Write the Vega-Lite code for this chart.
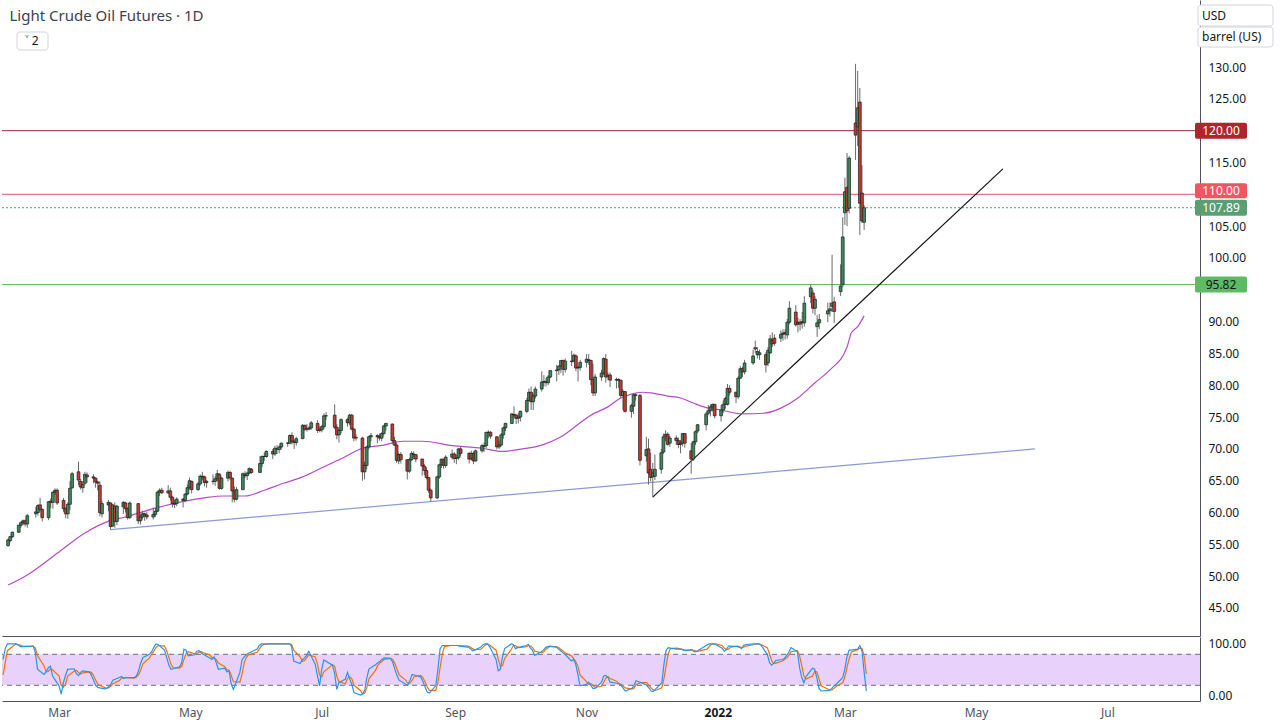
{
"$schema":"https://vega.github.io/schema/vega-lite/v6.json",
"padding":{"left":0,"top":0,"right":0,"bottom":4},
"background":"#ffffff",
"spacing":1,
"config":{"view":{"stroke":null},"font":"Noto Sans","axis":{"grid":false,"ticks":false,"domainColor":"#50535e","labelColor":"#131722","labelFontSize":12,"labelFont":"Noto Sans","labelOverlap":false,"labelSeparation":0,"tickCount":100}},
"datasets":{
"levels":[{"v":120,"col":"#9c2a30"},{"v":110,"col":"#e2535f"},{"v":95.82,"col":"#5cb85c"}],
"last":[{"v":107.89}],
"tags":[{"v":120,"t":"120.00","bg":"#b2242c","fg":"#ffffff"},{"v":110,"t":"110.00","bg":"#f25562","fg":"#ffffff"},{"v":107.89,"t":"107.89","bg":"#5a9e74","fg":"#ffffff"},{"v":95.82,"t":"95.82","bg":"#5dbb63","fg":"#131722"}],
"trend":[{"d1":"2021-03-23","v1":57.32,"d2":"2022-05-30","v2":70.0,"col":"#8a9ad8"},{"d1":"2021-12-02","v1":62.43,"d2":"2022-05-15","v2":114.0,"col":"#111111"}],
"band":[{"lo":20,"hi":80}],
"stlev":[{"v":80},{"v":20}],
"ma":[
{"d":"2021-02-03","v":48.6},{"d":"2021-02-12","v":50.2},{"d":"2021-02-26","v":53.6},{"d":"2021-03-11","v":56.8},{"d":"2021-03-21","v":58.5},{"d":"2021-03-30","v":59.3},{"d":"2021-04-13","v":60.7},{"d":"2021-04-27","v":61.8},{"d":"2021-05-06","v":62.3},{"d":"2021-05-15","v":62.6},{"d":"2021-05-25","v":62.6},{"d":"2021-06-03","v":63.5},{"d":"2021-06-12","v":64.6},{"d":"2021-06-21","v":65.6},{"d":"2021-07-01","v":67.2},{"d":"2021-07-10","v":68.6},{"d":"2021-07-19","v":70.1},{"d":"2021-07-29","v":70.6},{"d":"2021-08-07","v":71.2},{"d":"2021-08-16","v":71.2},{"d":"2021-08-30","v":70.5},{"d":"2021-09-13","v":70.1},{"d":"2021-09-22","v":69.6},{"d":"2021-10-02","v":70.0},{"d":"2021-10-11","v":70.6},{"d":"2021-10-20","v":71.9},{"d":"2021-10-29","v":74.1},{"d":"2021-11-03","v":75.3},{"d":"2021-11-11","v":76.6},{"d":"2021-11-17","v":78.0},{"d":"2021-11-22","v":78.6},{"d":"2021-11-27","v":78.9},{"d":"2021-12-01","v":78.8},{"d":"2021-12-09","v":78.3},{"d":"2021-12-15","v":78.0},{"d":"2021-12-21","v":77.2},{"d":"2021-12-28","v":76.4},{"d":"2022-01-03","v":76.1},{"d":"2022-01-13","v":75.5},{"d":"2022-01-23","v":75.6},{"d":"2022-01-31","v":76.4},{"d":"2022-02-08","v":78.0},{"d":"2022-02-16","v":80.4},{"d":"2022-02-23","v":82.4},{"d":"2022-03-03","v":86.0},{"d":"2022-03-05","v":88.2},{"d":"2022-03-08","v":89.2},{"d":"2022-03-11","v":90.9}],
"bars":[
{"d":"2021-02-03","o":54.8,"h":55.9,"l":54.6,"c":55.7,"k":70,"s":40},
{"d":"2021-02-04","o":55.6,"h":56.3,"l":55.3,"c":56.2,"k":91,"s":64},
{"d":"2021-02-05","o":56.2,"h":57.0,"l":56.0,"c":56.9,"k":100,"s":87},
{"d":"2021-02-08","o":56.9,"h":58.0,"l":56.8,"c":58.0,"k":100,"s":97},
{"d":"2021-02-09","o":58.0,"h":58.6,"l":57.6,"c":58.4,"k":100,"s":100},
{"d":"2021-02-10","o":58.4,"h":58.9,"l":58.0,"c":58.7,"k":98,"s":99},
{"d":"2021-02-11","o":58.7,"h":58.9,"l":57.8,"c":58.2,"k":95,"s":98},
{"d":"2021-02-12","o":58.2,"h":59.8,"l":57.6,"c":59.5,"k":95,"s":96},
{"d":"2021-02-16","o":59.8,"h":60.9,"l":59.2,"c":60.1,"k":96,"s":95},
{"d":"2021-02-17","o":60.0,"h":61.3,"l":59.5,"c":61.1,"k":96,"s":96},
{"d":"2021-02-18","o":61.2,"h":62.3,"l":60.2,"c":60.5,"k":83,"s":92},
{"d":"2021-02-19","o":60.5,"h":60.6,"l":58.6,"c":59.2,"k":51,"s":77},
{"d":"2021-02-22","o":59.2,"h":61.8,"l":58.8,"c":61.7,"k":41,"s":58},
{"d":"2021-02-23","o":61.8,"h":62.2,"l":60.7,"c":61.6,"k":46,"s":46},
{"d":"2021-02-24","o":61.6,"h":63.3,"l":60.6,"c":63.2,"k":54,"s":47},
{"d":"2021-02-25","o":63.2,"h":63.8,"l":62.8,"c":63.5,"k":57,"s":52},
{"d":"2021-02-26","o":63.5,"h":63.8,"l":61.2,"c":61.5,"k":38,"s":50},
{"d":"2021-03-01","o":61.9,"h":62.3,"l":60.1,"c":60.6,"k":19,"s":38},
{"d":"2021-03-02","o":60.6,"h":60.8,"l":59.1,"c":59.8,"k":3,"s":20},
{"d":"2021-03-03","o":59.8,"h":61.6,"l":59.0,"c":61.3,"k":25,"s":16},
{"d":"2021-03-04","o":61.3,"h":64.9,"l":60.4,"c":63.8,"k":39,"s":22},
{"d":"2021-03-05","o":63.9,"h":66.4,"l":63.7,"c":66.1,"k":51,"s":38},
{"d":"2021-03-08","o":66.4,"h":68.0,"l":64.3,"c":65.1,"k":52,"s":47},
{"d":"2021-03-09","o":64.9,"h":65.3,"l":63.6,"c":64.0,"k":43,"s":49},
{"d":"2021-03-10","o":63.9,"h":64.9,"l":63.1,"c":64.4,"k":39,"s":45},
{"d":"2021-03-11","o":64.6,"h":66.4,"l":64.3,"c":66.0,"k":45,"s":42},
{"d":"2021-03-12","o":65.9,"h":66.3,"l":64.7,"c":65.6,"k":48,"s":44},
{"d":"2021-03-15","o":65.6,"h":66.0,"l":64.6,"c":65.4,"k":46,"s":46},
{"d":"2021-03-16","o":65.4,"h":65.5,"l":63.9,"c":64.8,"k":40,"s":45},
{"d":"2021-03-17","o":64.8,"h":65.0,"l":63.5,"c":64.6,"k":30,"s":39},
{"d":"2021-03-18","o":64.3,"h":64.9,"l":59.4,"c":60.0,"k":20,"s":30},
{"d":"2021-03-19","o":59.8,"h":61.8,"l":59.2,"c":61.4,"k":16,"s":22},
{"d":"2021-03-22","o":61.2,"h":62.0,"l":60.2,"c":61.6,"k":13,"s":16},
{"d":"2021-03-23","o":61.5,"h":61.6,"l":57.3,"c":57.8,"k":14,"s":14},
{"d":"2021-03-24","o":57.9,"h":61.3,"l":57.7,"c":61.2,"k":17,"s":15},
{"d":"2021-03-25","o":61.0,"h":61.6,"l":57.6,"c":58.6,"k":22,"s":18},
{"d":"2021-03-26","o":58.6,"h":61.2,"l":58.0,"c":61.0,"k":30,"s":23},
{"d":"2021-03-29","o":60.9,"h":61.8,"l":59.8,"c":61.6,"k":35,"s":29},
{"d":"2021-03-30","o":61.5,"h":61.7,"l":60.0,"c":60.6,"k":37,"s":34},
{"d":"2021-03-31","o":60.6,"h":60.8,"l":58.9,"c":59.2,"k":33,"s":35},
{"d":"2021-04-01","o":59.2,"h":61.7,"l":59.0,"c":61.5,"k":35,"s":35},
{"d":"2021-04-05","o":61.4,"h":61.5,"l":58.2,"c":58.7,"k":35,"s":34},
{"d":"2021-04-06","o":58.7,"h":59.8,"l":58.1,"c":59.3,"k":38,"s":36},
{"d":"2021-04-07","o":59.3,"h":60.3,"l":58.9,"c":59.8,"k":49,"s":41},
{"d":"2021-04-08","o":59.8,"h":60.0,"l":58.7,"c":59.6,"k":64,"s":50},
{"d":"2021-04-09","o":59.6,"h":60.1,"l":58.9,"c":59.3,"k":74,"s":62},
{"d":"2021-04-12","o":59.3,"h":60.8,"l":58.9,"c":59.7,"k":80,"s":73},
{"d":"2021-04-13","o":59.7,"h":60.6,"l":59.3,"c":60.2,"k":85,"s":80},
{"d":"2021-04-14","o":60.2,"h":63.4,"l":60.1,"c":63.2,"k":93,"s":86},
{"d":"2021-04-15","o":63.2,"h":63.8,"l":62.6,"c":63.5,"k":100,"s":93},
{"d":"2021-04-16","o":63.5,"h":63.9,"l":62.9,"c":63.1,"k":99,"s":97},
{"d":"2021-04-19","o":63.1,"h":64.3,"l":62.9,"c":63.4,"k":88,"s":96},
{"d":"2021-04-20","o":63.4,"h":63.9,"l":61.9,"c":62.4,"k":74,"s":87},
{"d":"2021-04-21","o":62.4,"h":62.6,"l":60.8,"c":61.4,"k":59,"s":74},
{"d":"2021-04-22","o":61.3,"h":62.0,"l":60.7,"c":61.4,"k":51,"s":61},
{"d":"2021-04-23","o":61.4,"h":62.4,"l":61.0,"c":62.1,"k":52,"s":54},
{"d":"2021-04-26","o":62.1,"h":62.3,"l":60.8,"c":61.9,"k":56,"s":53},
{"d":"2021-04-27","o":61.9,"h":63.1,"l":61.6,"c":62.9,"k":64,"s":57},
{"d":"2021-04-28","o":62.9,"h":64.4,"l":62.7,"c":63.9,"k":90,"s":70},
{"d":"2021-04-29","o":63.9,"h":65.5,"l":63.6,"c":65.0,"k":88,"s":81},
{"d":"2021-04-30","o":64.9,"h":65.0,"l":63.0,"c":63.6,"k":77,"s":85},
{"d":"2021-05-03","o":63.6,"h":64.8,"l":63.4,"c":64.5,"k":79,"s":81},
{"d":"2021-05-04","o":64.5,"h":66.0,"l":64.2,"c":65.7,"k":86,"s":81},
{"d":"2021-05-05","o":65.7,"h":66.4,"l":65.1,"c":65.6,"k":87,"s":84},
{"d":"2021-05-06","o":65.6,"h":65.8,"l":64.1,"c":64.7,"k":83,"s":85},
{"d":"2021-05-07","o":64.7,"h":65.1,"l":63.9,"c":64.9,"k":80,"s":83},
{"d":"2021-05-10","o":64.9,"h":66.0,"l":64.4,"c":64.9,"k":73,"s":79},
{"d":"2021-05-11","o":64.9,"h":65.7,"l":64.2,"c":65.3,"k":70,"s":74},
{"d":"2021-05-12","o":65.3,"h":66.7,"l":64.9,"c":66.1,"k":75,"s":73},
{"d":"2021-05-13","o":66.0,"h":66.2,"l":63.6,"c":63.8,"k":64,"s":70},
{"d":"2021-05-14","o":63.8,"h":65.6,"l":63.6,"c":65.4,"k":51,"s":63},
{"d":"2021-05-17","o":65.4,"h":66.6,"l":64.9,"c":66.3,"k":53,"s":56},
{"d":"2021-05-18","o":66.3,"h":66.5,"l":65.1,"c":65.5,"k":46,"s":50},
{"d":"2021-05-19","o":65.4,"h":65.5,"l":61.6,"c":63.4,"k":48,"s":49},
{"d":"2021-05-20","o":63.4,"h":64.1,"l":61.6,"c":62.1,"k":22,"s":39},
{"d":"2021-05-21","o":62.1,"h":64.0,"l":61.9,"c":63.6,"k":12,"s":27},
{"d":"2021-05-24","o":63.6,"h":66.3,"l":63.5,"c":66.1,"k":45,"s":26},
{"d":"2021-05-25","o":66.0,"h":66.5,"l":65.4,"c":65.8,"k":69,"s":42},
{"d":"2021-05-26","o":65.8,"h":66.3,"l":65.1,"c":66.2,"k":75,"s":63},
{"d":"2021-05-27","o":66.2,"h":67.1,"l":66.0,"c":66.9,"k":79,"s":74},
{"d":"2021-05-28","o":66.8,"h":67.0,"l":66.1,"c":66.3,"k":82,"s":79},
{"d":"2021-06-01","o":66.3,"h":68.9,"l":66.2,"c":67.7,"k":90,"s":84},
{"d":"2021-06-02","o":67.7,"h":69.0,"l":67.1,"c":68.8,"k":97,"s":90},
{"d":"2021-06-03","o":68.8,"h":69.4,"l":68.1,"c":68.8,"k":100,"s":96},
{"d":"2021-06-04","o":68.8,"h":69.8,"l":68.6,"c":69.6,"k":100,"s":99},
{"d":"2021-06-07","o":69.6,"h":70.0,"l":68.4,"c":69.2,"k":100,"s":100},
{"d":"2021-06-08","o":69.2,"h":70.5,"l":68.9,"c":70.1,"k":100,"s":100},
{"d":"2021-06-09","o":70.0,"h":70.6,"l":69.2,"c":70.0,"k":100,"s":100},
{"d":"2021-06-10","o":69.9,"h":70.5,"l":69.3,"c":70.3,"k":100,"s":100},
{"d":"2021-06-11","o":70.3,"h":71.0,"l":69.9,"c":70.9,"k":100,"s":100},
{"d":"2021-06-14","o":70.9,"h":71.1,"l":70.3,"c":70.9,"k":100,"s":100},
{"d":"2021-06-15","o":70.9,"h":72.3,"l":70.7,"c":72.1,"k":100,"s":100},
{"d":"2021-06-16","o":72.1,"h":72.6,"l":70.7,"c":71.2,"k":100,"s":100},
{"d":"2021-06-17","o":71.2,"h":71.4,"l":70.0,"c":71.0,"k":96,"s":99},
{"d":"2021-06-18","o":71.0,"h":71.9,"l":70.5,"c":71.6,"k":67,"s":88},
{"d":"2021-06-21","o":71.6,"h":73.9,"l":71.6,"c":73.7,"k":62,"s":75},
{"d":"2021-06-22","o":73.7,"h":73.8,"l":72.8,"c":73.1,"k":69,"s":66},
{"d":"2021-06-23","o":73.1,"h":73.9,"l":72.7,"c":73.1,"k":73,"s":68},
{"d":"2021-06-24","o":73.1,"h":73.6,"l":72.9,"c":73.3,"k":78,"s":73},
{"d":"2021-06-25","o":73.3,"h":74.4,"l":73.0,"c":74.1,"k":86,"s":79},
{"d":"2021-06-28","o":74.0,"h":74.5,"l":72.5,"c":72.9,"k":61,"s":75},
{"d":"2021-06-29","o":72.9,"h":73.5,"l":72.6,"c":73.0,"k":39,"s":62},
{"d":"2021-06-30","o":73.0,"h":73.8,"l":72.6,"c":73.5,"k":19,"s":40},
{"d":"2021-07-01","o":73.5,"h":75.6,"l":73.1,"c":75.2,"k":51,"s":36},
{"d":"2021-07-02","o":75.2,"h":75.8,"l":74.6,"c":75.2,"k":69,"s":46},
{"d":"2021-07-06","o":75.3,"h":77.0,"l":73.1,"c":73.4,"k":59,"s":60},
{"d":"2021-07-07","o":73.4,"h":73.9,"l":71.5,"c":72.2,"k":43,"s":57},
{"d":"2021-07-08","o":72.2,"h":73.2,"l":71.0,"c":72.9,"k":12,"s":38},
{"d":"2021-07-09","o":72.9,"h":74.8,"l":72.4,"c":74.6,"k":25,"s":27},
{"d":"2021-07-12","o":74.6,"h":74.9,"l":73.5,"c":74.1,"k":32,"s":23},
{"d":"2021-07-13","o":74.1,"h":75.5,"l":73.7,"c":75.3,"k":45,"s":34},
{"d":"2021-07-14","o":75.3,"h":75.5,"l":72.9,"c":73.1,"k":32,"s":36},
{"d":"2021-07-15","o":73.1,"h":73.3,"l":71.2,"c":71.7,"k":22,"s":33},
{"d":"2021-07-16","o":71.7,"h":72.3,"l":71.3,"c":71.8,"k":6,"s":20},
{"d":"2021-07-19","o":71.7,"h":71.9,"l":65.0,"c":66.4,"k":1,"s":10},
{"d":"2021-07-20","o":66.4,"h":68.0,"l":65.2,"c":67.4,"k":3,"s":3},
{"d":"2021-07-21","o":67.4,"h":70.5,"l":66.8,"c":70.3,"k":11,"s":5},
{"d":"2021-07-22","o":70.3,"h":72.1,"l":69.9,"c":71.9,"k":35,"s":16},
{"d":"2021-07-23","o":71.9,"h":72.5,"l":71.2,"c":72.1,"k":52,"s":33},
{"d":"2021-07-26","o":72.1,"h":72.3,"l":70.9,"c":71.9,"k":60,"s":49},
{"d":"2021-07-27","o":71.9,"h":72.4,"l":71.3,"c":71.7,"k":63,"s":58},
{"d":"2021-07-28","o":71.7,"h":72.6,"l":71.2,"c":72.4,"k":66,"s":63},
{"d":"2021-07-29","o":72.4,"h":73.8,"l":72.1,"c":73.6,"k":70,"s":66},
{"d":"2021-07-30","o":73.6,"h":74.1,"l":72.9,"c":74.0,"k":73,"s":70},
{"d":"2021-08-02","o":73.9,"h":74.0,"l":70.9,"c":71.3,"k":72,"s":72},
{"d":"2021-08-03","o":71.3,"h":71.9,"l":70.5,"c":70.6,"k":64,"s":70},
{"d":"2021-08-04","o":70.6,"h":70.9,"l":67.8,"c":68.2,"k":51,"s":62},
{"d":"2021-08-05","o":68.1,"h":69.4,"l":67.6,"c":69.1,"k":39,"s":51},
{"d":"2021-08-06","o":69.1,"h":69.5,"l":67.7,"c":68.3,"k":30,"s":40},
{"d":"2021-08-09","o":68.3,"h":68.4,"l":65.2,"c":66.5,"k":22,"s":30},
{"d":"2021-08-10","o":66.5,"h":68.6,"l":66.2,"c":68.3,"k":20,"s":24},
{"d":"2021-08-11","o":68.3,"h":69.6,"l":68.1,"c":69.3,"k":30,"s":24},
{"d":"2021-08-12","o":69.2,"h":69.6,"l":68.4,"c":69.1,"k":41,"s":30},
{"d":"2021-08-13","o":69.1,"h":69.1,"l":67.9,"c":68.4,"k":40,"s":37},
{"d":"2021-08-16","o":68.4,"h":68.5,"l":65.8,"c":67.3,"k":36,"s":39},
{"d":"2021-08-17","o":67.3,"h":67.6,"l":65.9,"c":66.6,"k":28,"s":35},
{"d":"2021-08-18","o":66.6,"h":67.1,"l":65.2,"c":65.5,"k":17,"s":27},
{"d":"2021-08-19","o":65.5,"h":65.6,"l":63.1,"c":63.5,"k":7,"s":17},
{"d":"2021-08-20","o":63.5,"h":63.8,"l":61.7,"c":62.3,"k":5,"s":10},
{"d":"2021-08-23","o":62.3,"h":65.8,"l":62.1,"c":65.6,"k":19,"s":10},
{"d":"2021-08-24","o":65.6,"h":67.7,"l":65.3,"c":67.5,"k":51,"s":25},
{"d":"2021-08-25","o":67.5,"h":68.4,"l":67.0,"c":68.4,"k":91,"s":54},
{"d":"2021-08-26","o":68.4,"h":68.4,"l":66.9,"c":67.4,"k":97,"s":80},
{"d":"2021-08-27","o":67.4,"h":69.0,"l":67.0,"c":68.7,"k":97,"s":95},
{"d":"2021-08-30","o":68.7,"h":69.9,"l":68.3,"c":69.2,"k":97,"s":97},
{"d":"2021-08-31","o":69.2,"h":69.5,"l":67.8,"c":68.5,"k":97,"s":97},
{"d":"2021-09-01","o":68.5,"h":69.1,"l":67.6,"c":68.6,"k":97,"s":97},
{"d":"2021-09-02","o":68.6,"h":70.1,"l":68.3,"c":70.0,"k":97,"s":97},
{"d":"2021-09-03","o":70.0,"h":70.3,"l":68.8,"c":69.3,"k":96,"s":97},
{"d":"2021-09-07","o":69.3,"h":69.5,"l":67.7,"c":68.4,"k":94,"s":96},
{"d":"2021-09-08","o":68.4,"h":69.7,"l":68.2,"c":69.3,"k":91,"s":94},
{"d":"2021-09-09","o":69.3,"h":69.6,"l":67.6,"c":68.1,"k":87,"s":91},
{"d":"2021-09-10","o":68.1,"h":69.9,"l":68.0,"c":69.7,"k":88,"s":89},
{"d":"2021-09-13","o":69.7,"h":70.8,"l":69.4,"c":70.5,"k":94,"s":90},
{"d":"2021-09-14","o":70.4,"h":71.0,"l":69.5,"c":70.5,"k":99,"s":94},
{"d":"2021-09-15","o":70.5,"h":72.7,"l":70.1,"c":72.6,"k":100,"s":98},
{"d":"2021-09-16","o":72.6,"h":72.9,"l":71.7,"c":72.6,"k":100,"s":100},
{"d":"2021-09-17","o":72.6,"h":72.8,"l":71.6,"c":72.0,"k":95,"s":98},
{"d":"2021-09-20","o":71.9,"h":72.0,"l":69.9,"c":70.3,"k":70,"s":88},
{"d":"2021-09-21","o":70.3,"h":71.3,"l":70.0,"c":70.6,"k":48,"s":71},
{"d":"2021-09-22","o":70.6,"h":72.5,"l":70.4,"c":72.2,"k":51,"s":56},
{"d":"2021-09-23","o":72.2,"h":73.5,"l":71.6,"c":73.3,"k":75,"s":58},
{"d":"2021-09-24","o":73.3,"h":74.1,"l":72.8,"c":74.0,"k":91,"s":72},
{"d":"2021-09-27","o":74.0,"h":75.6,"l":73.9,"c":75.5,"k":100,"s":89},
{"d":"2021-09-28","o":75.4,"h":76.7,"l":74.8,"c":75.3,"k":99,"s":97},
{"d":"2021-09-29","o":75.3,"h":75.5,"l":73.9,"c":74.8,"k":91,"s":97},
{"d":"2021-09-30","o":74.8,"h":75.6,"l":74.0,"c":75.0,"k":93,"s":94},
{"d":"2021-10-01","o":75.0,"h":76.0,"l":74.3,"c":75.9,"k":94,"s":93},
{"d":"2021-10-04","o":75.9,"h":78.0,"l":75.6,"c":77.6,"k":97,"s":95},
{"d":"2021-10-05","o":77.6,"h":79.5,"l":77.5,"c":78.9,"k":99,"s":97},
{"d":"2021-10-06","o":78.9,"h":79.8,"l":76.1,"c":77.4,"k":92,"s":96},
{"d":"2021-10-07","o":77.4,"h":78.7,"l":76.1,"c":78.3,"k":87,"s":93},
{"d":"2021-10-08","o":78.3,"h":79.8,"l":77.9,"c":79.4,"k":78,"s":86},
{"d":"2021-10-11","o":79.4,"h":82.2,"l":79.0,"c":80.5,"k":85,"s":83},
{"d":"2021-10-12","o":80.5,"h":81.6,"l":79.8,"c":80.6,"k":88,"s":84},
{"d":"2021-10-13","o":80.6,"h":81.1,"l":79.8,"c":80.4,"k":93,"s":89},
{"d":"2021-10-14","o":80.4,"h":81.6,"l":80.0,"c":81.3,"k":95,"s":92},
{"d":"2021-10-15","o":81.3,"h":82.4,"l":81.1,"c":82.3,"k":96,"s":95},
{"d":"2021-10-18","o":82.3,"h":83.2,"l":80.6,"c":82.4,"k":94,"s":95},
{"d":"2021-10-19","o":82.4,"h":83.1,"l":81.6,"c":83.0,"k":90,"s":93},
{"d":"2021-10-20","o":83.0,"h":83.9,"l":81.9,"c":83.9,"k":87,"s":90},
{"d":"2021-10-21","o":83.9,"h":84.0,"l":81.5,"c":82.5,"k":83,"s":87},
{"d":"2021-10-22","o":82.5,"h":84.2,"l":82.0,"c":83.8,"k":80,"s":83},
{"d":"2021-10-25","o":83.8,"h":85.4,"l":83.0,"c":83.7,"k":67,"s":77},
{"d":"2021-10-26","o":83.8,"h":85.0,"l":83.6,"c":84.7,"k":70,"s":72},
{"d":"2021-10-27","o":84.6,"h":84.9,"l":82.2,"c":82.7,"k":61,"s":66},
{"d":"2021-10-28","o":82.7,"h":83.0,"l":80.6,"c":82.8,"k":41,"s":57},
{"d":"2021-10-29","o":82.8,"h":84.0,"l":82.3,"c":83.6,"k":19,"s":40},
{"d":"2021-11-01","o":83.6,"h":84.9,"l":82.8,"c":84.1,"k":22,"s":27},
{"d":"2021-11-02","o":84.0,"h":84.9,"l":83.2,"c":83.9,"k":26,"s":22},
{"d":"2021-11-03","o":83.9,"h":84.0,"l":80.0,"c":80.9,"k":20,"s":23},
{"d":"2021-11-04","o":80.9,"h":83.4,"l":78.3,"c":78.8,"k":14,"s":20},
{"d":"2021-11-05","o":78.8,"h":81.8,"l":78.3,"c":81.3,"k":14,"s":16},
{"d":"2021-11-08","o":81.3,"h":82.4,"l":80.7,"c":81.9,"k":26,"s":18},
{"d":"2021-11-09","o":81.9,"h":84.4,"l":81.6,"c":84.2,"k":38,"s":26},
{"d":"2021-11-10","o":84.1,"h":84.9,"l":80.4,"c":81.3,"k":39,"s":34},
{"d":"2021-11-11","o":81.3,"h":82.0,"l":80.8,"c":81.6,"k":35,"s":37},
{"d":"2021-11-12","o":81.6,"h":82.0,"l":79.7,"c":80.8,"k":26,"s":33},
{"d":"2021-11-15","o":80.8,"h":81.2,"l":79.5,"c":80.9,"k":24,"s":28},
{"d":"2021-11-16","o":80.9,"h":81.1,"l":79.6,"c":80.8,"k":23,"s":24},
{"d":"2021-11-17","o":80.8,"h":80.8,"l":78.0,"c":78.4,"k":20,"s":22},
{"d":"2021-11-18","o":78.4,"h":79.4,"l":76.1,"c":79.0,"k":15,"s":19},
{"d":"2021-11-19","o":79.0,"h":79.1,"l":75.7,"c":75.9,"k":9,"s":15},
{"d":"2021-11-22","o":75.9,"h":77.1,"l":74.9,"c":76.8,"k":14,"s":13},
{"d":"2021-11-23","o":76.7,"h":78.7,"l":75.5,"c":78.5,"k":19,"s":14},
{"d":"2021-11-24","o":78.5,"h":78.8,"l":77.6,"c":78.4,"k":29,"s":21},
{"d":"2021-11-26","o":78.4,"h":78.6,"l":67.4,"c":68.2,"k":26,"s":25},
{"d":"2021-11-29","o":68.9,"h":71.9,"l":68.0,"c":69.9,"k":20,"s":25},
{"d":"2021-11-30","o":70.0,"h":71.6,"l":64.4,"c":66.2,"k":15,"s":20},
{"d":"2021-12-01","o":66.8,"h":69.4,"l":64.9,"c":65.5,"k":9,"s":15},
{"d":"2021-12-02","o":65.6,"h":67.8,"l":62.4,"c":66.2,"k":8,"s":11},
{"d":"2021-12-03","o":65.7,"h":69.1,"l":65.1,"c":66.8,"k":12,"s":10},
{"d":"2021-12-06","o":66.8,"h":70.0,"l":66.1,"c":69.4,"k":25,"s":15},
{"d":"2021-12-07","o":69.5,"h":72.4,"l":69.2,"c":71.9,"k":61,"s":33},
{"d":"2021-12-08","o":72.0,"h":72.9,"l":71.2,"c":72.3,"k":88,"s":58},
{"d":"2021-12-09","o":72.3,"h":72.6,"l":70.5,"c":70.7,"k":93,"s":81},
{"d":"2021-12-10","o":70.9,"h":72.0,"l":70.3,"c":71.7,"k":92,"s":91},
{"d":"2021-12-13","o":71.7,"h":72.1,"l":70.6,"c":71.3,"k":90,"s":92},
{"d":"2021-12-14","o":71.3,"h":71.8,"l":70.1,"c":70.7,"k":90,"s":91},
{"d":"2021-12-15","o":70.7,"h":71.4,"l":69.3,"c":70.9,"k":90,"s":90},
{"d":"2021-12-16","o":70.9,"h":72.5,"l":70.4,"c":72.4,"k":88,"s":89},
{"d":"2021-12-17","o":72.4,"h":72.4,"l":70.2,"c":70.9,"k":87,"s":88},
{"d":"2021-12-20","o":69.7,"h":70.9,"l":66.1,"c":68.4,"k":89,"s":88},
{"d":"2021-12-21","o":68.4,"h":71.3,"l":68.1,"c":71.1,"k":85,"s":87},
{"d":"2021-12-22","o":71.1,"h":72.9,"l":70.6,"c":72.7,"k":85,"s":86},
{"d":"2021-12-23","o":72.8,"h":73.9,"l":72.5,"c":73.8,"k":88,"s":86},
{"d":"2021-12-27","o":73.8,"h":75.8,"l":72.9,"c":75.5,"k":98,"s":90},
{"d":"2021-12-28","o":75.6,"h":76.9,"l":75.3,"c":76.0,"k":100,"s":95},
{"d":"2021-12-29","o":76.0,"h":77.0,"l":75.1,"c":76.6,"k":100,"s":99},
{"d":"2021-12-30","o":76.6,"h":77.1,"l":75.9,"c":77.0,"k":100,"s":100},
{"d":"2021-12-31","o":77.0,"h":77.1,"l":74.8,"c":75.2,"k":99,"s":100},
{"d":"2022-01-03","o":75.2,"h":76.9,"l":74.3,"c":76.1,"k":92,"s":97},
{"d":"2022-01-04","o":76.1,"h":77.6,"l":75.6,"c":77.0,"k":86,"s":92},
{"d":"2022-01-05","o":77.0,"h":78.2,"l":76.3,"c":77.9,"k":89,"s":89},
{"d":"2022-01-06","o":77.0,"h":80.2,"l":76.8,"c":79.5,"k":96,"s":90},
{"d":"2022-01-07","o":79.5,"h":80.0,"l":78.4,"c":78.9,"k":96,"s":94},
{"d":"2022-01-10","o":78.9,"h":79.0,"l":77.2,"c":78.2,"k":95,"s":96},
{"d":"2022-01-11","o":78.2,"h":81.4,"l":77.8,"c":81.1,"k":94,"s":95},
{"d":"2022-01-12","o":81.1,"h":83.0,"l":81.0,"c":82.6,"k":91,"s":93},
{"d":"2022-01-13","o":82.6,"h":82.9,"l":81.3,"c":82.1,"k":97,"s":94},
{"d":"2022-01-14","o":82.1,"h":84.0,"l":81.7,"c":83.5,"k":99,"s":96},
{"d":"2022-01-18","o":83.5,"h":85.6,"l":83.2,"c":84.6,"k":100,"s":99},
{"d":"2022-01-19","o":85.9,"h":87.0,"l":85.1,"c":85.7,"k":100,"s":100},
{"d":"2022-01-20","o":84.8,"h":86.0,"l":84.2,"c":85.3,"k":100,"s":100},
{"d":"2022-01-21","o":84.8,"h":85.6,"l":84.0,"c":85.1,"k":98,"s":99},
{"d":"2022-01-24","o":84.8,"h":85.2,"l":82.0,"c":83.2,"k":80,"s":93},
{"d":"2022-01-25","o":83.5,"h":86.0,"l":83.0,"c":85.5,"k":64,"s":81},
{"d":"2022-01-26","o":85.1,"h":87.9,"l":84.9,"c":87.3,"k":59,"s":68},
{"d":"2022-01-27","o":87.1,"h":88.3,"l":86.0,"c":86.5,"k":63,"s":62},
{"d":"2022-01-28","o":87.4,"h":88.0,"l":86.2,"c":86.6,"k":68,"s":63},
{"d":"2022-01-31","o":87.4,"h":88.6,"l":86.8,"c":88.0,"k":70,"s":67},
{"d":"2022-02-01","o":88.0,"h":88.8,"l":87.0,"c":88.2,"k":72,"s":70},
{"d":"2022-02-02","o":88.3,"h":88.8,"l":87.2,"c":88.1,"k":78,"s":73},
{"d":"2022-02-03","o":87.9,"h":90.4,"l":87.3,"c":89.9,"k":84,"s":78},
{"d":"2022-02-04","o":89.9,"h":93.2,"l":89.6,"c":92.1,"k":93,"s":85},
{"d":"2022-02-07","o":91.5,"h":92.6,"l":89.2,"c":89.5,"k":85,"s":87},
{"d":"2022-02-08","o":89.9,"h":90.6,"l":88.3,"c":89.6,"k":54,"s":77},
{"d":"2022-02-09","o":89.9,"h":90.4,"l":88.6,"c":89.6,"k":35,"s":58},
{"d":"2022-02-10","o":90.0,"h":91.5,"l":88.9,"c":89.8,"k":25,"s":38},
{"d":"2022-02-11","o":89.8,"h":94.0,"l":89.2,"c":92.9,"k":37,"s":32},
{"d":"2022-02-14","o":93.9,"h":95.8,"l":92.9,"c":95.3,"k":53,"s":38},
{"d":"2022-02-15","o":94.5,"h":95.0,"l":91.3,"c":92.1,"k":51,"s":47},
{"d":"2022-02-16","o":92.1,"h":94.0,"l":91.0,"c":93.5,"k":35,"s":46},
{"d":"2022-02-17","o":89.2,"h":91.0,"l":87.6,"c":89.8,"k":14,"s":33},
{"d":"2022-02-18","o":89.8,"h":91.2,"l":88.8,"c":90.3,"k":9,"s":19},
{"d":"2022-02-22","o":91.2,"h":93.0,"l":89.9,"c":91.7,"k":10,"s":11},
{"d":"2022-02-23","o":91.7,"h":93.0,"l":90.8,"c":92.0,"k":14,"s":11},
{"d":"2022-02-24","o":92.4,"h":100.5,"l":91.5,"c":92.9,"k":19,"s":14},
{"d":"2022-02-25","o":93.1,"h":93.9,"l":89.8,"c":91.6,"k":22,"s":18},
{"d":"2022-02-28","o":94.7,"h":99.0,"l":94.0,"c":95.6,"k":35,"s":25},
{"d":"2022-03-01","o":95.8,"h":106.4,"l":95.4,"c":103.3,"k":51,"s":36},
{"d":"2022-03-02","o":107.1,"h":112.6,"l":105.2,"c":110.4,"k":75,"s":54},
{"d":"2022-03-03","o":111.1,"h":116.5,"l":105.0,"c":107.4,"k":88,"s":71},
{"d":"2022-03-04","o":107.8,"h":116.0,"l":107.0,"c":115.7,"k":88,"s":84},
{"d":"2022-03-07","o":121.2,"h":130.5,"l":115.4,"c":119.3,"k":90,"s":89},
{"d":"2022-03-08","o":120.6,"h":129.4,"l":117.6,"c":123.6,"k":97,"s":92},
{"d":"2022-03-09","o":124.5,"h":126.7,"l":103.6,"c":108.6,"k":86,"s":91},
{"d":"2022-03-10","o":110.2,"h":114.6,"l":105.5,"c":105.8,"k":45,"s":76},
{"d":"2022-03-11","o":105.6,"h":108.3,"l":104.4,"c":107.89,"k":9,"s":42}
]
},
"vconcat":[
{
"width":1198,"height":636,
"title":{"text":"Light Crude Oil Futures · 1D","anchor":"start","offset":-24,"dx":8,"fontSize":15,"fontWeight":"normal","color":"#3d4150","font":"Noto Sans"},
"layer":[
{"data":{"name":"levels"},"mark":{"type":"rule","strokeWidth":1},
 "encoding":{"y":{"field":"v","type":"quantitative","title":null,"scale":{"domain":[40.6,140.53],"nice":false,"zero":false},
   "axis":{"orient":"right","values":[45,50,55,60,65,70,75,80,85,90,100,105,115,125,130],"tickCount":100,"format":".2f","labelOverlap":false,"labelSeparation":0,"labelPadding":8,"minExtent":82,"maxExtent":82,"title":null}},
  "color":{"field":"col","type":"nominal","scale":null}}},
{"data":{"name":"last"},"mark":{"type":"rule","strokeWidth":1,"strokeDash":[2,2],"color":"#4b9b6c"},
 "encoding":{"y":{"field":"v","type":"quantitative","title":null,"scale":{"domain":[40.6,140.53],"nice":false,"zero":false}}}},
{"data":{"name":"trend"},"mark":{"type":"rule","strokeWidth":1.2},
 "encoding":{"x":{"field":"d1","type":"temporal","title":null,"scale":{"type":"utc","domain":[{"year":2021,"month":2,"date":2,"hours":12,"utc":true},{"year":2022,"month":8,"date":13,"utc":true}],"nice":false},"axis":{"labels":false,"ticks":false,"domain":true,"title":null}},
  "x2":{"field":"d2"},
  "y":{"field":"v1","type":"quantitative","title":null,"scale":{"domain":[40.6,140.53],"nice":false,"zero":false}},
  "y2":{"field":"v2"},
  "color":{"field":"col","type":"nominal","scale":null}}},
{"data":{"name":"ma"},"mark":{"type":"line","strokeWidth":1.2,"color":"#b54bc7","interpolate":"monotone"},
 "encoding":{"x":{"field":"d","type":"temporal","title":null,"scale":{"type":"utc","domain":[{"year":2021,"month":2,"date":2,"hours":12,"utc":true},{"year":2022,"month":8,"date":13,"utc":true}],"nice":false}},
  "y":{"field":"v","type":"quantitative","title":null,"scale":{"domain":[40.6,140.53],"nice":false,"zero":false}}}},
{"data":{"name":"bars"},"mark":{"type":"rule","color":"#6a6a6a","strokeWidth":1},
 "encoding":{"x":{"field":"d","type":"temporal","title":null,"scale":{"type":"utc","domain":[{"year":2021,"month":2,"date":2,"hours":12,"utc":true},{"year":2022,"month":8,"date":13,"utc":true}],"nice":false}},
  "y":{"field":"l","type":"quantitative","title":null,"scale":{"domain":[40.6,140.53],"nice":false,"zero":false}},
  "y2":{"field":"h"}}},
{"data":{"name":"bars"},"mark":{"type":"bar","width":2.8,"stroke":"#1c1c1c","strokeWidth":0.7},
 "encoding":{"x":{"field":"d","type":"temporal","title":null,"scale":{"type":"utc","domain":[{"year":2021,"month":2,"date":2,"hours":12,"utc":true},{"year":2022,"month":8,"date":13,"utc":true}],"nice":false}},
  "y":{"field":"o","type":"quantitative","title":null,"scale":{"domain":[40.6,140.53],"nice":false,"zero":false}},
  "y2":{"field":"c"},
  "fill":{"condition":{"test":"datum.c >= datum.o","value":"#3a8a5c"},"value":"#c8382e"}}},
{"data":{"name":"tags"},"transform":[{"filter":"datum.v != 110"}],"mark":{"type":"rect","x2Offset":52,"yOffset":-8,"y2Offset":8,"cornerRadius":2},
 "encoding":{"x":{"datum":{"year":2022,"month":8,"date":13,"utc":true},"type":"temporal","scale":{"type":"utc","domain":[{"year":2021,"month":2,"date":2,"hours":12,"utc":true},{"year":2022,"month":8,"date":13,"utc":true}],"nice":false}},
  "x2":{"datum":{"year":2022,"month":8,"date":13,"utc":true}},
  "y":{"field":"v","type":"quantitative","title":null,"scale":{"domain":[40.6,140.53],"nice":false,"zero":false}},
  "y2":{"field":"v"},
  "fill":{"field":"bg","type":"nominal","scale":null}}},
{"data":{"name":"tags"},"transform":[{"filter":"datum.v == 110"}],"mark":{"type":"rect","x2Offset":52,"yOffset":-11,"y2Offset":4,"cornerRadius":2},
 "encoding":{"x":{"datum":{"year":2022,"month":8,"date":13,"utc":true},"type":"temporal","scale":{"type":"utc","domain":[{"year":2021,"month":2,"date":2,"hours":12,"utc":true},{"year":2022,"month":8,"date":13,"utc":true}],"nice":false}},
  "x2":{"datum":{"year":2022,"month":8,"date":13,"utc":true}},
  "y":{"field":"v","type":"quantitative","title":null,"scale":{"domain":[40.6,140.53],"nice":false,"zero":false}},
  "y2":{"field":"v"},
  "fill":{"field":"bg","type":"nominal","scale":null}}},
{"data":{"name":"tags"},"transform":[{"filter":"datum.v != 110"}],"mark":{"type":"text","dx":26,"align":"center","baseline":"middle","fontSize":12,"font":"Noto Sans"},
 "encoding":{"x":{"datum":{"year":2022,"month":8,"date":13,"utc":true},"type":"temporal","scale":{"type":"utc","domain":[{"year":2021,"month":2,"date":2,"hours":12,"utc":true},{"year":2022,"month":8,"date":13,"utc":true}],"nice":false}},
  "y":{"field":"v","type":"quantitative","title":null,"scale":{"domain":[40.6,140.53],"nice":false,"zero":false}},
  "text":{"field":"t"},
  "color":{"field":"fg","type":"nominal","scale":null}}},
{"data":{"name":"tags"},"transform":[{"filter":"datum.v == 110"}],"mark":{"type":"text","dx":26,"dy":-3.5,"align":"center","baseline":"middle","fontSize":12,"font":"Noto Sans"},
 "encoding":{"x":{"datum":{"year":2022,"month":8,"date":13,"utc":true},"type":"temporal","scale":{"type":"utc","domain":[{"year":2021,"month":2,"date":2,"hours":12,"utc":true},{"year":2022,"month":8,"date":13,"utc":true}],"nice":false}},
  "y":{"field":"v","type":"quantitative","title":null,"scale":{"domain":[40.6,140.53],"nice":false,"zero":false}},
  "text":{"field":"t"},
  "color":{"field":"fg","type":"nominal","scale":null}}},
{"data":{"values":[{"t":"USD"}]},"mark":{"type":"rect","xOffset":3,"x2Offset":78,"yOffset":5,"y2Offset":26,"fill":"#ffffff","stroke":"#d1d4dc","cornerRadius":3},
 "encoding":{"x":{"datum":{"year":2022,"month":8,"date":13,"utc":true},"type":"temporal","scale":{"type":"utc","domain":[{"year":2021,"month":2,"date":2,"hours":12,"utc":true},{"year":2022,"month":8,"date":13,"utc":true}],"nice":false}},
  "x2":{"datum":{"year":2022,"month":8,"date":13,"utc":true}},
  "y":{"datum":140.53,"type":"quantitative","scale":{"domain":[40.6,140.53],"nice":false,"zero":false}},
  "y2":{"datum":140.53}}},
{"data":{"values":[{"t":"barrel (US)"}]},"mark":{"type":"rect","xOffset":3,"x2Offset":78,"yOffset":27,"y2Offset":47,"fill":"#ffffff","stroke":"#d1d4dc","cornerRadius":3},
 "encoding":{"x":{"datum":{"year":2022,"month":8,"date":13,"utc":true},"type":"temporal","scale":{"type":"utc","domain":[{"year":2021,"month":2,"date":2,"hours":12,"utc":true},{"year":2022,"month":8,"date":13,"utc":true}],"nice":false}},
  "x2":{"datum":{"year":2022,"month":8,"date":13,"utc":true}},
  "y":{"datum":140.53,"type":"quantitative","scale":{"domain":[40.6,140.53],"nice":false,"zero":false}},
  "y2":{"datum":140.53}}},
{"data":{"values":[{"t":"USD","off":16},{"t":"barrel (US)","off":37}]},"mark":{"type":"text","dx":7,"align":"left","baseline":"middle","fontSize":12,"font":"Noto Sans","color":"#131722"},
 "encoding":{"x":{"datum":{"year":2022,"month":8,"date":13,"utc":true},"type":"temporal","scale":{"type":"utc","domain":[{"year":2021,"month":2,"date":2,"hours":12,"utc":true},{"year":2022,"month":8,"date":13,"utc":true}],"nice":false}},
  "y":{"datum":140.53,"type":"quantitative","scale":{"domain":[40.6,140.53],"nice":false,"zero":false}},
  "yOffset":{"field":"off","type":"quantitative","scale":null},
  "text":{"field":"t"}}},
{"data":{"values":[{"t":"2"}]},"mark":{"type":"rect","xOffset":10,"x2Offset":41,"yOffset":32,"y2Offset":50,"fill":"#ffffff","stroke":"#d1d4dc","cornerRadius":3},
 "encoding":{"x":{"datum":{"year":2021,"month":2,"date":2,"hours":12,"utc":true},"type":"temporal","scale":{"type":"utc","domain":[{"year":2021,"month":2,"date":2,"hours":12,"utc":true},{"year":2022,"month":8,"date":13,"utc":true}],"nice":false}},
  "x2":{"datum":{"year":2021,"month":2,"date":2,"hours":12,"utc":true}},
  "y":{"datum":140.53,"type":"quantitative","scale":{"domain":[40.6,140.53],"nice":false,"zero":false}},
  "y2":{"datum":140.53}}},
{"data":{"values":[{"t":"˅ 2"}]},"mark":{"type":"text","dx":25,"dy":41,"align":"center","baseline":"middle","fontSize":12,"font":"Noto Sans","color":"#131722"},
 "encoding":{"x":{"datum":{"year":2021,"month":2,"date":2,"hours":12,"utc":true},"type":"temporal","scale":{"type":"utc","domain":[{"year":2021,"month":2,"date":2,"hours":12,"utc":true},{"year":2022,"month":8,"date":13,"utc":true}],"nice":false}},
  "y":{"datum":140.53,"type":"quantitative","scale":{"domain":[40.6,140.53],"nice":false,"zero":false}},
  "text":{"field":"t"}}}
]
},
{
"width":1198,"height":64,
"layer":[
{"data":{"name":"band"},"mark":{"type":"rect","color":"#e8d2fb"},
 "encoding":{"y":{"field":"hi","type":"quantitative","title":null,"scale":{"domain":[-10.4,113.5],"nice":false,"zero":false},
   "axis":{"orient":"right","values":[0,100],"format":".2f","labelPadding":8,"minExtent":82,"maxExtent":82,"title":null,"labelOverlap":false}},
  "y2":{"field":"lo"}}},
{"data":{"name":"stlev"},"mark":{"type":"rule","color":"#6a6d78","strokeDash":[5,4],"strokeWidth":1},
 "encoding":{"y":{"field":"v","type":"quantitative","title":null,"scale":{"domain":[-10.4,113.5],"nice":false,"zero":false}}}},
{"data":{"name":"bars"},"mark":{"type":"line","color":"#ff6d00","strokeWidth":1.2},
 "encoding":{"x":{"field":"d","type":"temporal","title":null,"scale":{"type":"utc","domain":[{"year":2021,"month":2,"date":2,"hours":12,"utc":true},{"year":2022,"month":8,"date":13,"utc":true}],"nice":false},
   "axis":{"title":null,"values":[{"year":2021,"month":3,"date":1,"utc":true},{"year":2021,"month":5,"date":1,"utc":true},{"year":2021,"month":7,"date":1,"utc":true},{"year":2021,"month":9,"date":1,"utc":true},{"year":2021,"month":11,"date":1,"utc":true},{"year":2022,"month":1,"date":1,"utc":true},{"year":2022,"month":3,"date":1,"utc":true},{"year":2022,"month":5,"date":1,"utc":true},{"year":2022,"month":7,"date":1,"utc":true}],
    "labelExpr":"utcmonth(datum.value) == 0 ? utcFormat(datum.value, '%Y') : utcFormat(datum.value, '%b')",
    "labelFontWeight":{"condition":{"test":"utcmonth(datum.value) == 0","value":"bold"},"value":"normal"},
    "labelColor":{"condition":{"test":"utcmonth(datum.value) == 0","value":"#131722"},"value":"#50535e"},
    "labelPadding":6,"labelOverlap":false,"labelFlush":false}},
  "y":{"field":"s","type":"quantitative","title":null,"scale":{"domain":[-10.4,113.5],"nice":false,"zero":false}}}},
{"data":{"name":"bars"},"mark":{"type":"line","color":"#2196f3","strokeWidth":1.2},
 "encoding":{"x":{"field":"d","type":"temporal","title":null,"scale":{"type":"utc","domain":[{"year":2021,"month":2,"date":2,"hours":12,"utc":true},{"year":2022,"month":8,"date":13,"utc":true}],"nice":false}},
  "y":{"field":"k","type":"quantitative","title":null,"scale":{"domain":[-10.4,113.5],"nice":false,"zero":false}}}}
]
}
]
}
